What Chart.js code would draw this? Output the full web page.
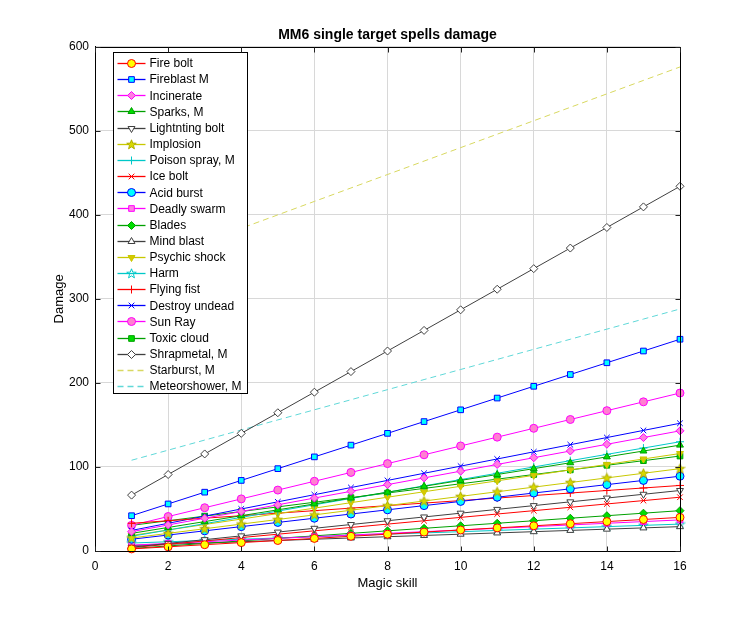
<!DOCTYPE html>
<html>
<head>
<meta charset="utf-8">
<script src="https://cdn.jsdelivr.net/npm/chart.js@4"></script>
<style>
html,body{margin:0;padding:0;background:#fff;}
canvas{display:block;}
</style>
</head>
<body>
<canvas id="c" width="750" height="618"></canvas>
<script>
const skills = [1,2,3,4,5,6,7,8,9,10,11,12,13,14,15,16];
const seriesNames = ['Fire bolt','Fireblast M','Incinerate','Sparks, M','Lightnting bolt','Implosion','Poison spray, M','Ice bolt','Acid burst','Deadly swarm','Blades','Mind blast','Psychic shock','Harm','Flying fist','Destroy undead','Sun Ray','Toxic cloud','Shrapmetal, M','Starburst, M','Meteorshower, M'];
const fireBolt = [2.5,5,7.5,10,12.5,15,17.5,20,22.5,25,27.5,30,32.5,35,37.5,40];
const fireblastM = [42,56,70,84,98,112,126,140,154,168,182,196,210,224,238,252];
const incinerate = [23,31,39,47,55,63,71,79,87,95,103,111,119,127,135,143];
const sparksM = [21,28,35,42,49,56,63,70,77,84,91,98,105,112,119,126];
const lightningBolt = [4.5,9,13.5,18,22.5,27,31.5,36,40.5,45,49.5,54,58.5,63,67.5,72];
const implosion = [15.5,21,26.5,32,37.5,43,48.5,54,59.5,65,70.5,76,81.5,87,92.5,98];
const poisonSprayM = [17.5,25,32.5,40,47.5,55,62.5,70,77.5,85,92.5,100,107.5,115,122.5,130];
const iceBolt = [4,8,12,16,20,24,28,32,36,40,44,48,52,56,60,64];
const acidBurst = [14,19,24,29,34,39,44,49,54,59,64,69,74,79,84,89];
const deadlySwarm = [7,9,11,13,15,17,19,21,23,25,27,29,31,33,35,37];
const blades = [3,6,9,12,15,18,21,24,27,30,33,36,39,42,45,48];
const mindBlast = [6.5,8,9.5,11,12.5,14,15.5,17,18.5,20,21.5,23,24.5,26,27.5,29];
const psychicShock = [18.5,25,31.5,38,44.5,51,57.5,64,70.5,77,83.5,90,96.5,103,109.5,116];
const harm = [9.5,11,12.5,14,15.5,17,18.5,20,21.5,23,24.5,26,27.5,29,30.5,32];
const flyingFist = [33,36,39,42,45,48,51,54,57,60,63,66,69,72,75,78];
const destroyUndead = [24.5,33,41.5,50,58.5,67,75.5,84,92.5,101,109.5,118,126.5,135,143.5,152];
const sunRay = [30.5,41,51.5,62,72.5,83,93.5,104,114.5,125,135.5,146,156.5,167,177.5,188];
const toxicCloud = [30.5,36,41.5,47,52.5,58,63.5,69,74.5,80,85.5,91,96.5,102,107.5,113];
const shrapmetalM = [66.5,91,115.5,140,164.5,189,213.5,238,262.5,287,311.5,336,360.5,385,409.5,434];
const starburstM = [336,352,368,384,400,416,432,448,464,480,496,512,528,544,560,576];
const meteorshowerM = [108,120,132,144,156,168,180,192,204,216,228,240,252,264,276,288];
const xTicks = [0,2,4,6,8,10,12,14,16];
const yTicks = [0,100,200,300,400,500,600];

const allValues = [fireBolt,fireblastM,incinerate,sparksM,lightningBolt,implosion,poisonSprayM,iceBolt,acidBurst,deadlySwarm,blades,mindBlast,psychicShock,harm,flyingFist,destroyUndead,sunRay,toxicCloud,shrapmetalM,starburstM,meteorshowerM];

function pentagram(fill, stroke){
  const c = document.createElement('canvas');
  c.width = 11; c.height = 11;
  const g = c.getContext('2d');
  g.beginPath();
  for (let k=0;k<10;k++){
    const r = k%2===0 ? 5 : 2.1;
    const a = -Math.PI/2 + k*Math.PI/5;
    const px = 5.5 + r*Math.cos(a), py = 5.8 + r*Math.sin(a);
    if (k===0) g.moveTo(px,py); else g.lineTo(px,py);
  }
  g.closePath();
  if (fill){ g.fillStyle = fill; g.fill(); }
  g.strokeStyle = stroke; g.lineWidth = 1; g.stroke();
  return c;
}

const RED='#ff0000', BLUE='#0000ff', MAG='#ff00ff', GRN='#00a000', GRY='#404040', YEL='#c8c800', CYN='#00c8c8';
const starYel = pentagram('#d8d800', '#b0b000');
const starCyn = pentagram(null, CYN);
// line color, marker style, marker fill, marker edge, rotation, dashed
const styles = [
  [RED,'circle','#ffff00',RED,0],
  [BLUE,'rect','#00ffff',BLUE,0],
  [MAG,'rectRot','#ff80e0',MAG,0],
  [GRN,'triangle','#00dd00',GRN,0],
  [GRY,'triangle','#ffffff',GRY,180],
  [YEL,starYel,'#c8c800',YEL,0],
  [CYN,'cross','#00c8c8',CYN,0],
  [RED,'crossRot',RED,RED,0],
  [BLUE,'circle','#00ffff',BLUE,0],
  [MAG,'rect','#ff80e0',MAG,0],
  [GRN,'rectRot','#00dd00',GRN,0],
  [GRY,'triangle','#ffffff',GRY,0],
  [YEL,'triangle','#d8c800',YEL,180],
  [CYN,starCyn,CYN,CYN,0],
  [RED,'cross',RED,RED,0],
  [BLUE,'crossRot',BLUE,BLUE,0],
  [MAG,'circle','#ff80d0',MAG,0],
  [GRN,'rect','#00dd00',GRN,0],
  [GRY,'rectRot','#ffffff',GRY,0],
  ['#d8d860',false,null,null,0,true],
  ['#60d8d8',false,null,null,0,true]
];

const datasets = seriesNames.map((name,i)=>{
  const st = styles[i];
  return {
    label: name,
    data: skills.map((s,j)=>({x:s, y:allValues[i][j]})),
    borderColor: st[0],
    backgroundColor: st[2] || st[0],
    borderWidth: 1,
    borderDash: st[5] ? [6,4] : [],
    pointStyle: st[1],
    pointRadius: st[1] ? 4 : 0,
    pointRotation: st[4],
    pointBackgroundColor: st[2] || st[0],
    pointBorderColor: st[3] || st[0],
    pointBorderWidth: 1,
    tension: 0,
    clip: false
  };
});

const FONT = "'Liberation Sans', Arial, sans-serif";

const legendPlugin = {
  id: 'mlLegend',
  afterDatasetsDraw(chart){
    const ctx = chart.ctx;
    const ca = chart.chartArea;
    const x0 = Math.round(ca.left + 18) + 0.5, y0 = Math.round(ca.top + 5) + 0.5;
    const w = 134, rowH = 16.15, h = 341;
    ctx.save();
    ctx.fillStyle = '#fff';
    ctx.fillRect(x0, y0, w, h);
    ctx.strokeStyle = '#000';
    ctx.lineWidth = 1;
    ctx.strokeRect(x0, y0, w, h);
    chart.data.datasets.forEach((ds,i)=>{
      const y = y0 + 10.5 + i*rowH;
      ctx.beginPath();
      ctx.setLineDash(ds.borderDash || []);
      ctx.strokeStyle = ds.borderColor;
      ctx.lineWidth = 1.3;
      ctx.moveTo(x0+4, Math.round(y)+0.5);
      ctx.lineTo(x0+32, Math.round(y)+0.5);
      ctx.stroke();
      ctx.setLineDash([]);
      if (ds.pointStyle) {
        ctx.fillStyle = ds.pointBackgroundColor;
        ctx.strokeStyle = ds.pointBorderColor;
        ctx.lineWidth = 1;
        Chart.helpers.drawPoint(ctx, {pointStyle: ds.pointStyle, radius: 4, rotation: ds.pointRotation, borderWidth: 1}, x0+18, Math.round(y)+0.5);
      }
      ctx.fillStyle = '#000';
      ctx.font = '12px ' + FONT;
      ctx.textBaseline = 'middle';
      ctx.textAlign = 'left';
      ctx.fillText(ds.label, x0+36, y+1);
    });
    ctx.restore();
  }
};

const framePlugin = {
  id: 'frame',
  afterDraw(chart){
    const ctx = chart.ctx;
    const ca = chart.chartArea;
    const xs = chart.scales.x, ys = chart.scales.y;
    const L = Math.round(ca.left)+0.5, R = Math.round(ca.right)+0.5, T = Math.round(ca.top)+0.5, B = Math.round(ca.bottom)+0.5;
    ctx.save();
    ctx.strokeStyle = '#000';
    ctx.lineWidth = 1;
    ctx.strokeRect(L, T, R-L, B-T);
    ctx.strokeStyle = '#222';
    ctx.beginPath();
    xTicks.forEach(v=>{
      const px = Math.round(xs.getPixelForValue(v))+0.5;
      ctx.moveTo(px, B); ctx.lineTo(px, B-5);
      ctx.moveTo(px, T); ctx.lineTo(px, T+5);
    });
    yTicks.forEach(v=>{
      const py = Math.round(ys.getPixelForValue(v))+0.5;
      ctx.moveTo(L, py); ctx.lineTo(L+5, py);
      ctx.moveTo(R, py); ctx.lineTo(R-5, py);
    });
    ctx.stroke();
    ctx.restore();
  }
};

new Chart(document.getElementById('c'), {
  type: 'line',
  data: { datasets },
  options: {
    responsive: false,
    devicePixelRatio: 1,
    animation: false,
    layout: { padding: { left: 0, right: 70, top: 0, bottom: 0 } },
    plugins: {
      legend: { display: false },
      tooltip: { enabled: false },
      title: {
        display: true,
        text: 'MM6 single target spells damage',
        fullSize: false,
        color: '#000',
        font: { family: FONT, size: 14, weight: 'bold' },
        padding: { top: 27, bottom: 3 }
      }
    },
    scales: {
      x: {
        type: 'linear',
        min: 0, max: 16,
        afterFit(s){ s.height = 67; },
        afterBuildTicks(s){ s.ticks = xTicks.map(v=>({value:v})); },
        ticks: { color: '#000', font: { family: FONT, size: 12 }, padding: 8, maxRotation: 0 },
        grid: { color: '#d8d8d8', drawTicks: false, tickLength: 0 },
        border: { display: true, color: '#000' },
        title: { display: true, text: 'Magic skill', color: '#000', font: { family: FONT, size: 13 }, padding: { top: 0, bottom: 27 } }
      },
      y: {
        type: 'linear',
        min: 0, max: 600,
        afterFit(s){ s.width = 95; },
        afterBuildTicks(s){ s.ticks = yTicks.map(v=>({value:v})); },
        ticks: { color: '#000', font: { family: FONT, size: 12 }, padding: 6 },
        grid: { color: '#d8d8d8', drawTicks: false, tickLength: 0 },
        border: { display: true, color: '#000' },
        title: { display: true, text: 'Damage', color: '#000', font: { family: FONT, size: 13 }, padding: { top: 52, bottom: 0 } }
      }
    }
  },
  plugins: [legendPlugin, framePlugin]
});
</script>
</body>
</html>
